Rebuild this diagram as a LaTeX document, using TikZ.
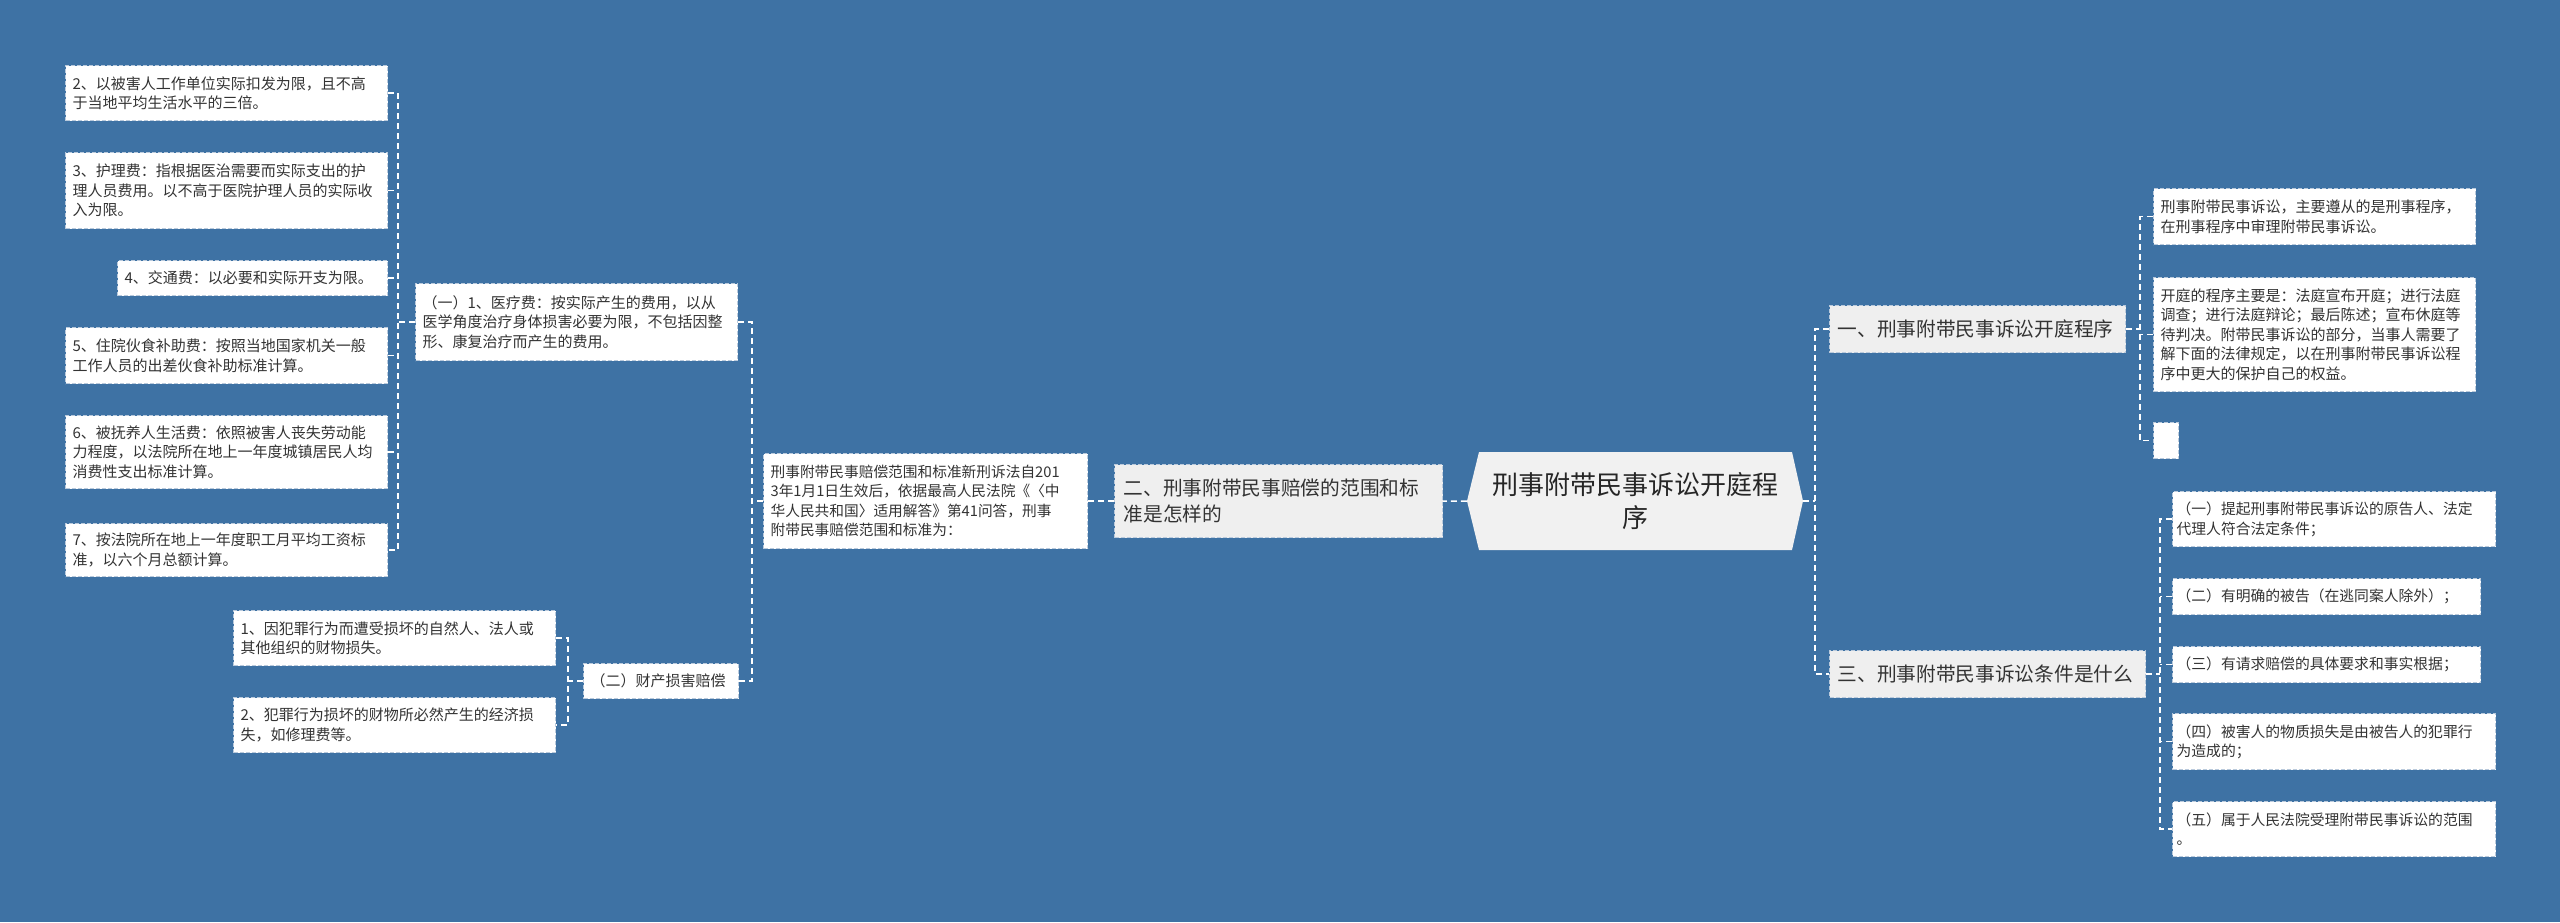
\documentclass[tikz,border=0pt]{standalone}
\usepackage{fontspec}
\setmainfont{Noto Sans CJK SC}
\usepackage{tikz}

\definecolor{bgblue}{RGB}{62,114,164}
\definecolor{boxline}{RGB}{186,202,220}
\definecolor{branchfill}{RGB}{239,239,239}
\definecolor{centerfill}{RGB}{241,241,241}
\definecolor{leaftext}{RGB}{51,51,51}

\begin{document}
\begin{tikzpicture}[x=1pt,y=-1pt]
    % --- DEFINE STYLES ---
    % Style for leaf text boxes
    \tikzstyle{leaf} = [draw=boxline, line width=1.2pt, dash pattern=on 4pt off 2pt, fill=white, text=leaftext, anchor=north west, inner xsep=7pt, inner ysep=0pt, align=left, font=\fontsize{15}{19.5}\selectfont]
    % Style for first level boxes
    \tikzstyle{branch} = [leaf, fill=branchfill, inner xsep=9pt, font=\fontsize{19.7}{26}\selectfont]
    % Style for the centre hexagon
    \tikzstyle{hexnode} = [minimum width=336pt, minimum height=98pt, align=center, text=black!85, font=\fontsize{26}{33}\selectfont,
        path picture={\fill[centerfill] (path picture bounding box.west) -- ([xshift=12pt]path picture bounding box.north west) -- ([xshift=-11pt]path picture bounding box.north east) -- (path picture bounding box.east) -- ([xshift=-11pt]path picture bounding box.south east) -- ([xshift=12pt]path picture bounding box.south west) -- cycle;}]
    % Style for connectors
    \tikzstyle{link} = [white, line width=1.5pt, dash pattern=on 6pt off 4pt]

    % Background
    \useasboundingbox (0,0) rectangle (2560,922);
    \fill[bgblue] (0,0) rectangle (2560,922);

    % --- CENTRE ---
    \node[hexnode] (c) at (1635,501) {刑事附带民事诉讼开庭程\\序};

    % --- LEFT BRANCH ---
    \node[branch, text width=310pt, minimum height=73pt] (n2) at (1114,464) {二、刑事附带民事赔偿的范围和标\\准是怎样的};
    \node[leaf, text width=310pt, minimum height=95pt, font=\fontsize{14.7}{19.5}\selectfont] (d) at (763,453) {刑事附带民事赔偿范围和标准新刑诉法自201\\3年1月1日生效后，依据最高人民法院《〈中\\华人民共和国〉适用解答》第41问答，刑事\\附带民事赔偿范围和标准为：};

    \node[leaf, text width=308pt, minimum height=77pt] (a) at (415,283) {（一）1、医疗费：按实际产生的费用，以从\\医学角度治疗身体损害必要为限，不包括因整\\形、康复治疗而产生的费用。};
    \node[leaf, text width=141pt, minimum height=35pt] (b) at (583,663) {（二）财产损害赔偿};

    % leaves of (一)
    \node[leaf, text width=308pt, minimum height=55pt] (l2) at (65,65) {2、以被害人工作单位实际扣发为限，且不高\\于当地平均生活水平的三倍。};
    \node[leaf, text width=308pt, minimum height=76pt] (l3) at (65,152) {3、护理费：指根据医治需要而实际支出的护\\理人员费用。以不高于医院护理人员的实际收\\入为限。};
    \node[leaf, text width=256pt, minimum height=35pt] (l4) at (117,260) {4、交通费：以必要和实际开支为限。};
    \node[leaf, text width=308pt, minimum height=56pt] (l5) at (65,327) {5、住院伙食补助费：按照当地国家机关一般\\工作人员的出差伙食补助标准计算。};
    \node[leaf, text width=308pt, minimum height=73pt] (l6) at (65,415) {6、被抚养人生活费：依照被害人丧失劳动能\\力程度，以法院所在地上一年度城镇居民人均\\消费性支出标准计算。};
    \node[leaf, text width=308pt, minimum height=53pt] (l7) at (65,523) {7、按法院所在地上一年度职工月平均工资标\\准，以六个月总额计算。};

    % leaves of (二)
    \node[leaf, text width=308pt, minimum height=55pt] (p1) at (233,610) {1、因犯罪行为而遭受损坏的自然人、法人或\\其他组织的财物损失。};
    \node[leaf, text width=308pt, minimum height=55pt] (p2) at (233,697) {2、犯罪行为损坏的财物所必然产生的经济损\\失，如修理费等。};

    % --- RIGHT BRANCHES ---
    \node[branch, inner xsep=8pt, text width=280pt, minimum height=47pt] (n1) at (1829,305) {一、刑事附带民事诉讼开庭程序};
    \node[branch, inner xsep=8pt, text width=300pt, minimum height=47pt] (n3) at (1829,650) {三、刑事附带民事诉讼条件是什么};

    % leaves of 一
    \node[leaf, text width=308pt, minimum height=56pt] (r1a) at (2153,188) {刑事附带民事诉讼，主要遵从的是刑事程序，\\在刑事程序中审理附带民事诉讼。};
    \node[leaf, text width=308pt, minimum height=114pt] (r1b) at (2153,277) {开庭的程序主要是：法庭宣布开庭；进行法庭\\调查；进行法庭辩论；最后陈述；宣布休庭等\\待判决。附带民事诉讼的部分，当事人需要了\\解下面的法律规定，以在刑事附带民事诉讼程\\序中更大的保护自己的权益。};
    \node[leaf, minimum width=25pt, minimum height=36pt] (r1c) at (2153,422) {};

    % leaves of 三
    \node[leaf, inner xsep=4pt, text width=315pt, minimum height=55pt, font=\fontsize{14.8}{19.5}\selectfont] (r3a) at (2172,491) {（一）提起刑事附带民事诉讼的原告人、法定\\代理人符合法定条件；};
    \node[leaf, inner xsep=4pt, text width=300pt, minimum height=36pt, font=\fontsize{14.8}{19.5}\selectfont] (r3b) at (2172,578) {（二）有明确的被告（在逃同案人除外）；};
    \node[leaf, inner xsep=4pt, text width=300pt, minimum height=36pt, font=\fontsize{14.8}{19.5}\selectfont] (r3c) at (2172,646) {（三）有请求赔偿的具体要求和事实根据；};
    \node[leaf, inner xsep=4pt, text width=315pt, minimum height=56pt, font=\fontsize{14.8}{19.5}\selectfont] (r3d) at (2172,713) {（四）被害人的物质损失是由被告人的犯罪行\\为造成的；};
    \node[leaf, inner xsep=4pt, text width=315pt, minimum height=55pt, font=\fontsize{14.8}{19.5}\selectfont] (r3e) at (2172,801) {（五）属于人民法院受理附带民事诉讼的范围\\。};

    % --- CONNECTORS ---
    \draw[link] (c.west) -- (n2.east);
    \draw[link] (n2.west) -- (d.east);

    \coordinate (dbus) at ([xshift=-11pt]d.west);
    \draw[link] (a.east) -| (dbus |- b.east) -- (b.east);
    \draw[link] (d.west) -- (dbus);

    \coordinate (abus) at ([xshift=-17pt]a.west);
    \draw[link] (l2.east) -| (abus |- l7.east) -- (l7.east);
    \foreach \n in {l3,l4,l5,l6}
        \draw[link] (\n.east) -- (abus |- \n.east);
    \draw[link] (a.west) -- (abus);

    \coordinate (bbus) at ([xshift=-15pt]b.west);
    \draw[link] (p1.east) -| (bbus |- p2.east) -- (p2.east);
    \draw[link] (b.west) -- (bbus);

    \coordinate (cbus) at ([xshift=12pt]c.east);
    \draw[link] (n1.west) -| (cbus |- n3.west) -- (n3.west);
    \draw[link] (c.east) -- (cbus);

    \coordinate (n1bus) at ([xshift=14pt]n1.east);
    \draw[link] (r1a.west) -| (n1bus |- r1c.west) -- (r1c.west);
    \draw[link] (r1b.west) -- (n1bus |- r1b.west);
    \draw[link] (n1.east) -- (n1bus);

    \coordinate (n3bus) at ([xshift=14pt]n3.east);
    \draw[link] (r3a.west) -| (n3bus |- r3e.west) -- (r3e.west);
    \foreach \n in {r3b,r3c,r3d}
        \draw[link] (\n.west) -- (n3bus |- \n.west);
    \draw[link] (n3.east) -- (n3bus);
\end{tikzpicture}
\end{document}
